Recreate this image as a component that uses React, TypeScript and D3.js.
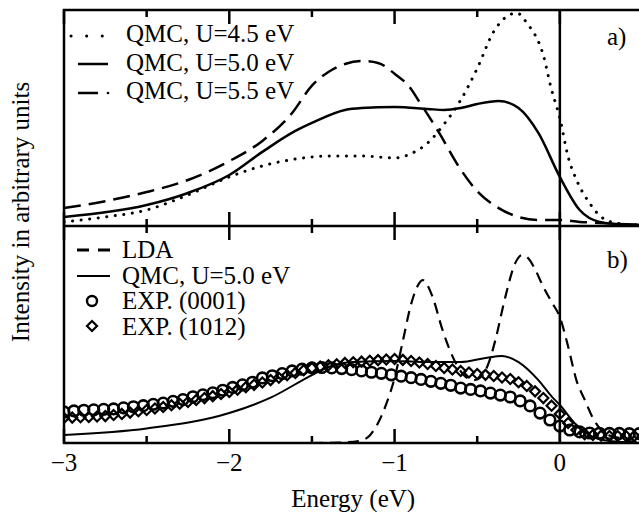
import * as d3 from "d3";

const FONT = "'Liberation Serif', 'Times New Roman', serif";

// panel a: QMC spectra, [energy eV, intensity]
const qmcU45: [number, number][] = [
  [-3.0, 1.9], [-2.75, 4.2], [-2.5, 7.4], [-2.25, 14.4], [-2.0, 22.7], [-1.8, 27.8],
  [-1.6, 31.0], [-1.4, 32.4], [-1.2, 32.4], [-1.0, 31.5], [-0.9, 33.5], [-0.8, 38.4],
  [-0.7, 47.2], [-0.6, 58.3], [-0.5, 73.0], [-0.4, 90.0], [-0.33, 96.5], [-0.26, 98.6],
  [-0.2, 94.0], [-0.1, 79.0], [-0.05, 63.0], [0.0, 50.0], [0.05, 32.0], [0.1, 21.5],
  [0.18, 10.6], [0.25, 4.2], [0.34, 1.4], [0.5, 0.3],
];
const qmcU50: [number, number][] = [
  [-3.0, 4.2], [-2.5, 9.7], [-2.25, 15.3], [-2.0, 23.6], [-1.8, 34.3], [-1.6, 44.0],
  [-1.5, 47.7], [-1.3, 53.7], [-1.2, 54.6], [-1.0, 55.1], [-0.8, 54.2], [-0.7, 53.7],
  [-0.6, 54.6], [-0.5, 56.5], [-0.37, 57.9], [-0.25, 54.6], [-0.13, 43.1], [0.0, 22.7],
  [0.12, 7.4], [0.24, 1.9], [0.35, 0.9], [0.5, 0.5],
];
const qmcU55: [number, number][] = [
  [-3.0, 8.3], [-2.75, 11.5], [-2.5, 15.7], [-2.25, 21.3], [-2.0, 30.0], [-1.8, 39.4],
  [-1.62, 52.3], [-1.5, 65.0], [-1.4, 71.3], [-1.3, 75.0], [-1.2, 76.4], [-1.1, 75.5],
  [-1.0, 70.5], [-0.91, 64.4], [-0.85, 57.5], [-0.73, 43.1], [-0.61, 27.3], [-0.49, 15.3],
  [-0.37, 8.3], [-0.25, 4.2], [-0.13, 2.8], [0.0, 2.8], [0.12, 1.9], [0.24, 1.4], [0.5, 0.5],
];

// panel b
const lda: [number, number][] = [
  [-1.5, 0], [-1.3, 0.3], [-1.2, 1.2], [-1.15, 3.5], [-1.1, 9.2], [-1.05, 18], [-1.0, 30],
  [-0.95, 47], [-0.9, 64], [-0.86, 72.5], [-0.83, 75.1], [-0.8, 72.5], [-0.77, 67.3],
  [-0.71, 52.1], [-0.63, 36.9], [-0.57, 30.5], [-0.52, 29], [-0.47, 31], [-0.43, 37],
  [-0.39, 47.5], [-0.33, 67.3], [-0.27, 82.9], [-0.23, 86.6], [-0.19, 85], [-0.15, 80],
  [-0.1, 72], [-0.05, 65], [0.0, 58], [0.05, 44.5], [0.1, 29], [0.15, 20], [0.2, 11.5],
  [0.25, 6], [0.3, 3.5], [0.36, 2.3], [0.4, 1.2], [0.5, 0.3],
];
const qmcB: [number, number][] = [
  [-3.0, 3.7], [-2.5, 6.7], [-2.0, 13.8], [-1.75, 20.9], [-1.5, 31.3], [-1.4, 35.0],
  [-1.25, 37.3], [-1.0, 37.8], [-0.8, 37.3], [-0.6, 37.3], [-0.45, 39.2], [-0.35, 40.1],
  [-0.25, 37.3], [-0.13, 29.0], [-0.05, 21.5], [0.0, 17.5], [0.1, 8.3], [0.2, 2.8],
  [0.3, 0.9], [0.5, 0],
];
const exp0001: [number, number][] = [
  [-3.0, 14.3], [-2.94, 14.8], [-2.88, 15.1], [-2.82, 15.3], [-2.76, 15.5], [-2.7, 15.7],
  [-2.64, 16.2], [-2.58, 16.7], [-2.52, 17.2], [-2.46, 17.8], [-2.4, 18.4], [-2.34, 19.2],
  [-2.28, 20.0], [-2.22, 21.3], [-2.16, 22.2], [-2.1, 23.1], [-2.04, 24.3], [-1.98, 25.6],
  [-1.92, 26.8], [-1.86, 28.0], [-1.8, 30.0], [-1.74, 31.0], [-1.68, 32.0], [-1.62, 33.2],
  [-1.56, 34.0], [-1.5, 34.6], [-1.44, 34.8], [-1.38, 34.6], [-1.32, 34.3], [-1.26, 33.8],
  [-1.2, 33.2], [-1.14, 32.6], [-1.08, 32.1], [-1.02, 31.4], [-0.96, 30.8], [-0.9, 30.1],
  [-0.84, 29.3], [-0.78, 28.4], [-0.72, 27.5], [-0.66, 26.6], [-0.6, 25.3], [-0.54, 24.7],
  [-0.48, 24.0], [-0.42, 23.0], [-0.36, 22.1], [-0.3, 21.2], [-0.24, 19.4], [-0.18, 17.1],
  [-0.12, 13.8], [-0.06, 10.6], [0.0, 7.8], [0.06, 6.0], [0.12, 5.1], [0.18, 4.6],
  [0.24, 4.5], [0.3, 4.4], [0.36, 4.4], [0.42, 4.3], [0.48, 4.3],
];
const exp1012: [number, number][] = [
  [-3.0, 11.5], [-2.95, 11.7], [-2.9, 11.9], [-2.85, 12.0], [-2.8, 12.2], [-2.75, 12.4],
  [-2.7, 12.9], [-2.65, 13.4], [-2.6, 14.0], [-2.55, 14.6], [-2.5, 15.2], [-2.45, 15.9],
  [-2.4, 16.6], [-2.35, 17.4], [-2.3, 18.1], [-2.25, 18.9], [-2.2, 19.8], [-2.15, 20.7],
  [-2.1, 21.6], [-2.05, 22.6], [-2.0, 23.5], [-1.95, 24.6], [-1.9, 25.7], [-1.85, 26.8],
  [-1.8, 27.9], [-1.75, 29.0], [-1.7, 30.1], [-1.65, 31.2], [-1.6, 32.3], [-1.55, 33.5],
  [-1.5, 34.6], [-1.45, 35.2], [-1.4, 35.8], [-1.35, 36.3], [-1.3, 36.9], [-1.25, 37.2],
  [-1.2, 37.5], [-1.15, 37.9], [-1.1, 38.2], [-1.05, 38.5], [-1.0, 38.7], [-0.95, 38.3],
  [-0.9, 37.8], [-0.85, 37.1], [-0.8, 36.4], [-0.75, 35.5], [-0.7, 34.6], [-0.65, 33.9],
  [-0.6, 33.2], [-0.55, 32.5], [-0.5, 31.8], [-0.45, 31.4], [-0.4, 30.9], [-0.35, 30.2],
  [-0.3, 29.5], [-0.25, 28.0], [-0.2, 26.3], [-0.15, 23.8], [-0.1, 20.7], [-0.05, 17.2],
  [0.0, 13.4], [0.05, 9.2], [0.1, 6.0], [0.15, 4.1], [0.2, 3.7], [0.25, 3.4], [0.3, 3.2],
  [0.35, 3.2], [0.4, 3.2], [0.45, 3.2], [0.5, 3.2],
];

const xTickLabels = [-3, -2, -1, 0];
const legendA = ["QMC, U=4.5 eV", "QMC, U=5.0 eV", "QMC, U=5.5 eV"];
const legendB = ["LDA", "QMC, U=5.0 eV", "EXP. (0001)", "EXP. (1012)"];

const diamond = "M0,-5L5,0L0,5L-5,0Z";

export default function App() {
  const width = 639;
  const height = 512;
  const left = 64, right = 642.5, top = 10, mid = 226, bottom = 443;
  const fs = 25;

  const x = d3.scaleLinear().domain([-3, 0.5]).range([left, right]);
  const yA = d3.scaleLinear().domain([0, 100]).range([mid, top]);
  const yB = d3.scaleLinear().domain([0, 100]).range([bottom, mid]);

  const lineA = d3.line<[number, number]>().x((d) => x(d[0])).y((d) => yA(d[1])).curve(d3.curveMonotoneX);
  const lineB = d3.line<[number, number]>().x((d) => x(d[0])).y((d) => yB(d[1])).curve(d3.curveMonotoneX);

  const ticks = x.ticks(7);
  const isMajor = (t: number) => Math.abs(t - Math.round(t)) < 1e-6;
  const tickLen = (t: number) => (isMajor(t) ? 14 : 7);
  const fmt = (t: number) => (t < 0 ? "\u2212" + Math.abs(t) : String(t));

  return (
    <svg
      width={width}
      height={height}
      style={{ position: "absolute", left: 0, top: 0, background: "#fff" }}
      fontFamily={FONT}
    >
      <defs>
        <clipPath id="clipA">
          <rect x={left} y={top} width={right - left} height={mid - top} />
        </clipPath>
        <clipPath id="clipB">
          <rect x={left} y={mid} width={right - left} height={bottom - mid} />
        </clipPath>
      </defs>
      <rect width={width} height={height} fill="#fff" />

      {/* panel a curves */}
      <g clipPath="url(#clipA)" fill="none" stroke="#000">
        <path d={lineA(qmcU45) ?? ""} strokeWidth={3} strokeDasharray="0.1,8.5" strokeLinecap="round" />
        <path d={lineA(qmcU50) ?? ""} strokeWidth={2.5} />
        <path d={lineA(qmcU55) ?? ""} strokeWidth={2.5} strokeDasharray="17,8" />
      </g>

      {/* panel b data */}
      <g clipPath="url(#clipB)" fill="none" stroke="#000">
        {exp1012.map((d, i) => (
          <path key={"d" + i} d={diamond} transform={`translate(${x(d[0])},${yB(d[1])})`} strokeWidth={2.2} />
        ))}
        {exp0001.map((d, i) => (
          <circle key={"c" + i} cx={x(d[0])} cy={yB(d[1])} r={5.3} strokeWidth={2.6} />
        ))}
        <path d={lineB(qmcB) ?? ""} strokeWidth={2} />
        <path d={lineB(lda) ?? ""} strokeWidth={2.2} strokeDasharray="11,7" />
      </g>

      {/* frame */}
      <g stroke="#000" strokeWidth={2.5} fill="none">
        <rect x={left} y={top} width={right - left} height={bottom - top} />
        <line x1={left} x2={right} y1={mid} y2={mid} />
        <line x1={x(0)} x2={x(0)} y1={top} y2={bottom} />
        {ticks.map((t) => (
          <g key={t}>
            <line x1={x(t)} x2={x(t)} y1={top} y2={top + tickLen(t)} />
            <line x1={x(t)} x2={x(t)} y1={mid - tickLen(t)} y2={mid + tickLen(t)} />
            <line x1={x(t)} x2={x(t)} y1={bottom} y2={bottom - tickLen(t)} />
          </g>
        ))}
      </g>

      {/* x tick labels */}
      {xTickLabels.map((t) => (
        <text key={t} x={x(t)} y={471} fontSize={fs} textAnchor="middle">
          {fmt(t)}
        </text>
      ))}
      <text x={(left + right) / 2} y={507} fontSize={fs} textAnchor="middle">
        Energy (eV)
      </text>
      <text transform="translate(29,212) rotate(-90)" fontSize={fs} textAnchor="middle">
        Intensity in arbitrary units
      </text>

      {/* panel labels */}
      <text x={607} y={45} fontSize={fs}>a)</text>
      <text x={607} y={268} fontSize={fs}>b)</text>

      {/* legend a */}
      <g stroke="#000" fill="none">
        <path d="M71,36L104,36" strokeWidth={3} strokeDasharray="0.1,15.5" strokeLinecap="round" />
        <line x1={78} x2={108} y1={64} y2={64} strokeWidth={2.5} />
        <line x1={78} x2={98} y1={93} y2={93} strokeWidth={2.5} />
        <circle cx={108} cy={93} r={1.3} fill="#000" stroke="none" />
      </g>
      {legendA.map((s, i) => (
        <text key={s + i} x={126} y={42 + i * 28.5} fontSize={fs}>
          {s}
        </text>
      ))}

      {/* legend b */}
      <g stroke="#000" fill="none">
        <line x1={77} x2={110} y1={250} y2={250} strokeWidth={2.8} strokeDasharray="12,9" />
        <line x1={77} x2={110} y1={276} y2={276} strokeWidth={2} />
        <circle cx={92} cy={301} r={5} strokeWidth={2.4} />
        <path d={diamond} transform="translate(92,326)" strokeWidth={2.2} />
      </g>
      {legendB.map((s, i) => (
        <text key={s + i} x={122} y={258 + i * 25.5} fontSize={fs}>
          {s}
        </text>
      ))}
    </svg>
  );
}
